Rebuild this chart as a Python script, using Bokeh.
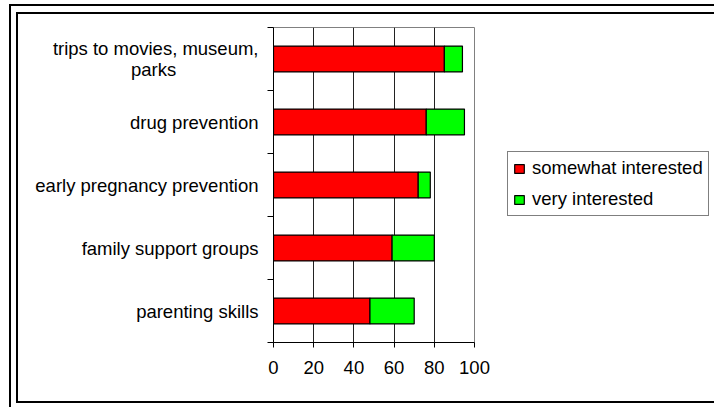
from bokeh.plotting import figure
from bokeh.models import Range1d, FixedTicker, ColumnDataSource, Legend
from bokeh.embed import file_html
from bokeh.resources import INLINE

categories = ["parenting skills", "family support groups", "early pregnancy prevention",
              "drug prevention", "trips to movies, museum,\nparks"]
somewhat = [48, 59, 72, 76, 85]
very = [22, 21, 6, 19, 9]
x_ticks = [0, 20, 40, 60, 80, 100]
series_names = ["somewhat interested", "very interested"]
colors = ["#FF0000", "#00FF00"]

FONT = "Liberation Sans"
FS = "18.5px"
NBSP = "\u00a0"
n = len(categories)
pos = [i + 0.5 for i in range(n)]
bounds = [float(i) for i in range(n + 1)]


def center_lines(label):
    # pad the shorter line so that the wrapped label reads centered
    lines = label.split("\n")
    if len(lines) == 1:
        return label
    return lines[0] + "\n" + lines[1] + NBSP * 16


src = ColumnDataSource(dict(y=pos, somewhat=somewhat, very=very))

p = figure(frame_width=201, frame_height=315, output_backend="svg", toolbar_location=None,
           x_range=Range1d(0, 100), y_range=Range1d(0, n),
           min_border_left=273, min_border_right=240, min_border_top=27, min_border_bottom=65)
p.styles = {"box-shadow": ("inset 9px 4px 0 0 #fff, inset 11px 6px 0 0 #000, "
                           "inset 16px 12px 0 0 #fff, inset 0 -4px 0 0 #fff, "
                           "inset 0 -6px 0 0 #000, inset 18px 14px 0 0 #000")}
p.border_fill_color = None
p.background_fill_color = "white"
p.outline_line_color = "#808080"
p.outline_line_width = 1

renderers = p.hbar_stack(["somewhat", "very"], y="y", height=0.41, source=src,
                         color=colors, line_color="black", line_width=1.2)

# x axis
xa = p.xaxis[0]
xa.ticker = FixedTicker(ticks=x_ticks)
xa.axis_line_color = "black"
xa.major_tick_line_color = "black"
xa.major_tick_in = 0
xa.major_tick_out = 5
xa.minor_tick_line_color = None
xa.major_label_text_font = FONT
xa.major_label_text_font_size = FS
xa.major_label_text_color = "black"
xa.major_label_standoff = 13

# y axis
ya = p.yaxis[0]
ya.ticker = FixedTicker(ticks=pos, minor_ticks=bounds)
ya.major_label_overrides = {pos[i]: center_lines(categories[i]) for i in range(n)}
ya.axis_line_color = "black"
ya.major_tick_line_color = None
ya.major_tick_in = 0
ya.major_tick_out = 0
ya.minor_tick_line_color = "black"
ya.minor_tick_in = 0
ya.minor_tick_out = 6
ya.major_label_text_font = FONT
ya.major_label_text_font_size = FS
ya.major_label_text_color = "black"
ya.major_label_text_line_height = 1.0
ya.major_label_standoff = 9

p.xgrid.ticker = FixedTicker(ticks=x_ticks[1:-1])
p.xgrid.grid_line_color = "#222222"
p.ygrid.grid_line_color = None

legend = Legend(items=[(series_names[i], [renderers[i]]) for i in range(2)],
                location=(33, 126))
legend.border_line_color = "black"
legend.border_line_width = 1
legend.background_fill_color = "white"
legend.label_text_font = FONT
legend.label_text_font_size = FS
legend.label_text_color = "black"
legend.glyph_width = 12
legend.glyph_height = 11
legend.label_height = 21
legend.label_standoff = 7
legend.padding = 5
legend.spacing = 9
legend.margin = 0
p.add_layout(legend, "right")

open("out.html", "w").write(file_html(p, INLINE))
